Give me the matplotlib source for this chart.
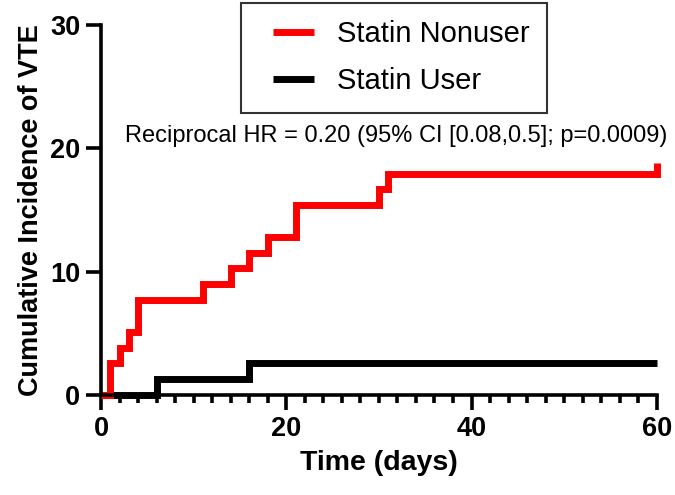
import numpy as np
import matplotlib
matplotlib.use("Agg")
import matplotlib.pyplot as plt
from matplotlib.legend_handler import HandlerLine2D

plt.rcParams['font.family'] = ['Liberation Sans', 'DejaVu Sans']

# Kaplan-Meier style cumulative incidence (%)
nonuser_days = [0, 1, 2, 3, 4, 11, 14, 16, 18, 21, 30, 31, 60]
nonuser_inc = [0, 2.56, 3.85, 5.13, 7.69, 8.97, 10.26, 11.54, 12.82, 15.38, 16.67, 17.95, 18.8]
user_days = [0, 6, 16, 60]
user_inc = [0, 1.28, 2.56, 2.56]

labels = ['Statin Nonuser', 'Statin User']
annot = 'Reciprocal HR = 0.20 (95% CI [0.08,0.5]; p=0.0009)'

fig = plt.figure(figsize=(6.75, 4.95), dpi=100)
ax = fig.add_axes([0.1496, 0.202, 0.8234, 0.7475])

l2, = ax.step(user_days, user_inc, where='post', color='black', lw=5,
              solid_joinstyle='miter', solid_capstyle='butt', clip_on=False)
l1, = ax.step(nonuser_days, nonuser_inc, where='post', color='#ff0000', lw=5,
              solid_joinstyle='miter', solid_capstyle='butt', clip_on=False)

ax.set_xlim(0, 60)
ax.set_ylim(0, 30)
ax.set_xticks([0, 20, 40, 60])
ax.set_xticks(np.arange(0, 61, 2), minor=True)
ax.set_yticks([0, 10, 20, 30])

for s in ['top', 'right']:
    ax.spines[s].set_visible(False)
for s in ['left', 'bottom']:
    ax.spines[s].set_linewidth(2.6)

ax.tick_params(axis='both', which='major', width=2.6, length=11, labelsize=19.5, pad=4)
ax.tick_params(axis='x', which='minor', width=2.6, length=5.5)
for t in ax.get_xticklabels() + ax.get_yticklabels():
    t.set_fontweight('bold')

ax.set_xlabel('Time (days)', fontsize=20.5, fontweight='bold', labelpad=6)
ax.set_ylabel('Cumulative Incidence of VTE', fontsize=19.5, fontweight='bold', labelpad=4)

ax.text(2.6, 21.0, annot, fontsize=17, ha='left', va='center', clip_on=False)

leg = ax.legend([l1, l2], labels, loc='upper left',
                bbox_to_anchor=(241 / 675, 1 - 3 / 495), bbox_transform=fig.transFigure,
                fontsize=21, frameon=True, fancybox=False, borderaxespad=0,
                handlelength=1.9, handletextpad=0.8, borderpad=0.6, labelspacing=0.64,
                handler_map={l1: HandlerLine2D(xpad=0.5), l2: HandlerLine2D(xpad=0.5)})
leg.get_frame().set_edgecolor('black')
leg.get_frame().set_linewidth(1.5)

fig.savefig('out.png', dpi=100)
